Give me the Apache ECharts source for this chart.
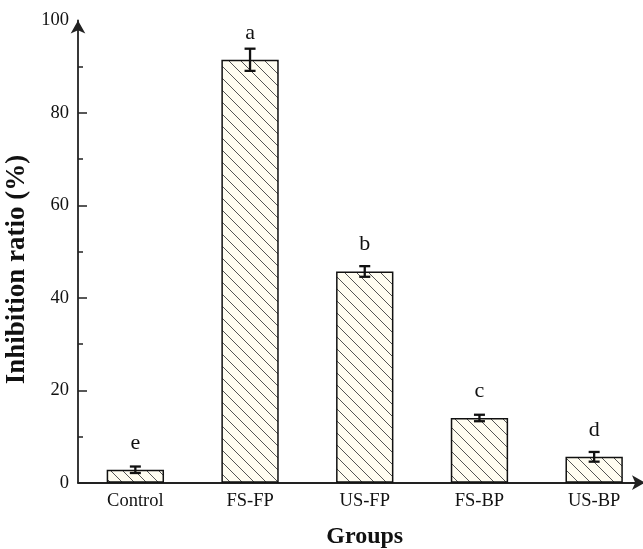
<!DOCTYPE html>
<html>
<head>
<meta charset="utf-8">
<script src="https://cdn.jsdelivr.net/npm/echarts@6/dist/echarts.min.js"></script>
<style>
  html, body { margin: 0; padding: 0; background: #fff; }
  #chart { width: 643px; height: 549px; }
</style>
</head>
<body>
<div id="chart"></div>
<script>
// data
var groups = ['Control', 'FS-FP', 'US-FP', 'FS-BP', 'US-BP'];
var means = [2.8, 91.5, 45.7, 14.0, 5.6];
var errs = [0.7, 2.4, 1.15, 0.7, 1.05];
var letters = ['e', 'a', 'b', 'c', 'd'];
var yMin = 0, yMax = 100, yStep = 20;
var yTickMarks = [0, 20, 40, 60, 80]; // no tick under the arrow at 100

var serif = '"Liberation Serif", "DejaVu Serif", serif';

// hatch fill: cream with "\" lines
function hatch() {
  var s = 12;
  var c = document.createElement('canvas');
  c.width = s; c.height = s;
  var ctx = c.getContext('2d');
  ctx.fillStyle = '#fffdf1';
  ctx.fillRect(0, 0, s, s);
  ctx.strokeStyle = '#555';
  ctx.lineWidth = 1;
  [-s, 0, s].forEach(function (k) {
    ctx.beginPath();
    ctx.moveTo(0, k);
    ctx.lineTo(s, s + k);
    ctx.stroke();
  });
  return c;
}

var errData = groups.map(function (g, i) {
  return [i, means[i], errs[i], letters[i]];
});

var chart = echarts.init(document.getElementById('chart'));
var option = {
  backgroundColor: '#fff',
  animation: false,
  grid: { left: 78, top: 20.5, width: 573.5, height: 462.2, outerBoundsMode: 'none' },
  xAxis: [{
    type: 'category',
    data: groups,
    name: 'Groups',
    nameLocation: 'middle',
    nameGap: 42,
    nameTextStyle: { fontFamily: serif, fontSize: 24, fontWeight: 'bold', color: '#111' },
    axisLine: {
      lineStyle: { color: '#222', width: 1.8 },
      symbol: ['none', 'arrow'],
      symbolSize: [11, 13],
      symbolOffset: [0, -6.5]
    },
    axisTick: { inside: true, alignWithLabel: true, length: 9, lineStyle: { color: '#222', width: 1.5 } },
    axisLabel: { fontFamily: serif, fontSize: 18.5, color: '#111', margin: 9 },
    splitLine: { show: false }
  }, {
    // only for the short ticks between the groups
    type: 'category',
    data: groups,
    position: 'bottom',
    axisLine: { show: false },
    axisTick: { inside: true, length: 5, lineStyle: { color: '#222', width: 1.5 } },
    axisLabel: { show: false },
    splitLine: { show: false }
  }],
  yAxis: {
    type: 'value',
    min: yMin,
    max: yMax,
    interval: yStep,
    name: 'Inhibition ratio (%)',
    nameLocation: 'middle',
    nameGap: 44,
    nameTextStyle: { fontFamily: serif, fontSize: 27, fontWeight: 'bold', color: '#111', padding: [0, 36, 0, 0] },
    axisLine: {
      show: true,
      lineStyle: { color: '#222', width: 1.8 },
      symbol: ['none', 'arrow'],
      symbolSize: [11, 13],
      symbolOffset: [0, 0]
    },
    axisTick: { show: true, inside: true, length: 9, customValues: yTickMarks, lineStyle: { color: '#222', width: 1.5 } },
    minorTick: { show: true, splitNumber: 2, length: 5, lineStyle: { color: '#222', width: 1.5 } },
    axisLabel: { fontFamily: serif, fontSize: 18.5, color: '#111', margin: 9 },
    splitLine: { show: false }
  },
  series: [{
    type: 'bar',
    data: means,
    barWidth: '50%',
    itemStyle: {
      color: { image: hatch(), repeat: 'repeat' },
      borderColor: '#111',
      borderWidth: 1.5
    },
    z: 2
  }, {
    type: 'custom',
    data: errData,
    encode: { x: 0, y: 1 },
    z: 3,
    renderItem: function (params, api) {
      var i = api.value(0);
      var m = api.value(1);
      var e = api.value(2);
      var hi = api.coord([i, m + e]);
      var lo = api.coord([i, m - e]);
      var top = api.coord([i, m]);
      var cap = 5.5;
      var st = { stroke: '#111', lineWidth: 2.3 };
      return {
        type: 'group',
        children: [
          { type: 'line', shape: { x1: hi[0], y1: hi[1], x2: lo[0], y2: lo[1] }, style: st },
          { type: 'line', shape: { x1: hi[0] - cap, y1: hi[1], x2: hi[0] + cap, y2: hi[1] }, style: st },
          { type: 'line', shape: { x1: lo[0] - cap, y1: lo[1], x2: lo[0] + cap, y2: lo[1] }, style: st },
          {
            type: 'text',
            x: top[0],
            y: top[1] - 16,
            style: {
              text: letters[params.dataIndex],
              fontFamily: serif,
              fontSize: 22,
              fill: '#111',
              align: 'center',
              verticalAlign: 'bottom'
            }
          }
        ]
      };
    }
  }]
};
chart.setOption(option);
</script>
</body>
</html>
